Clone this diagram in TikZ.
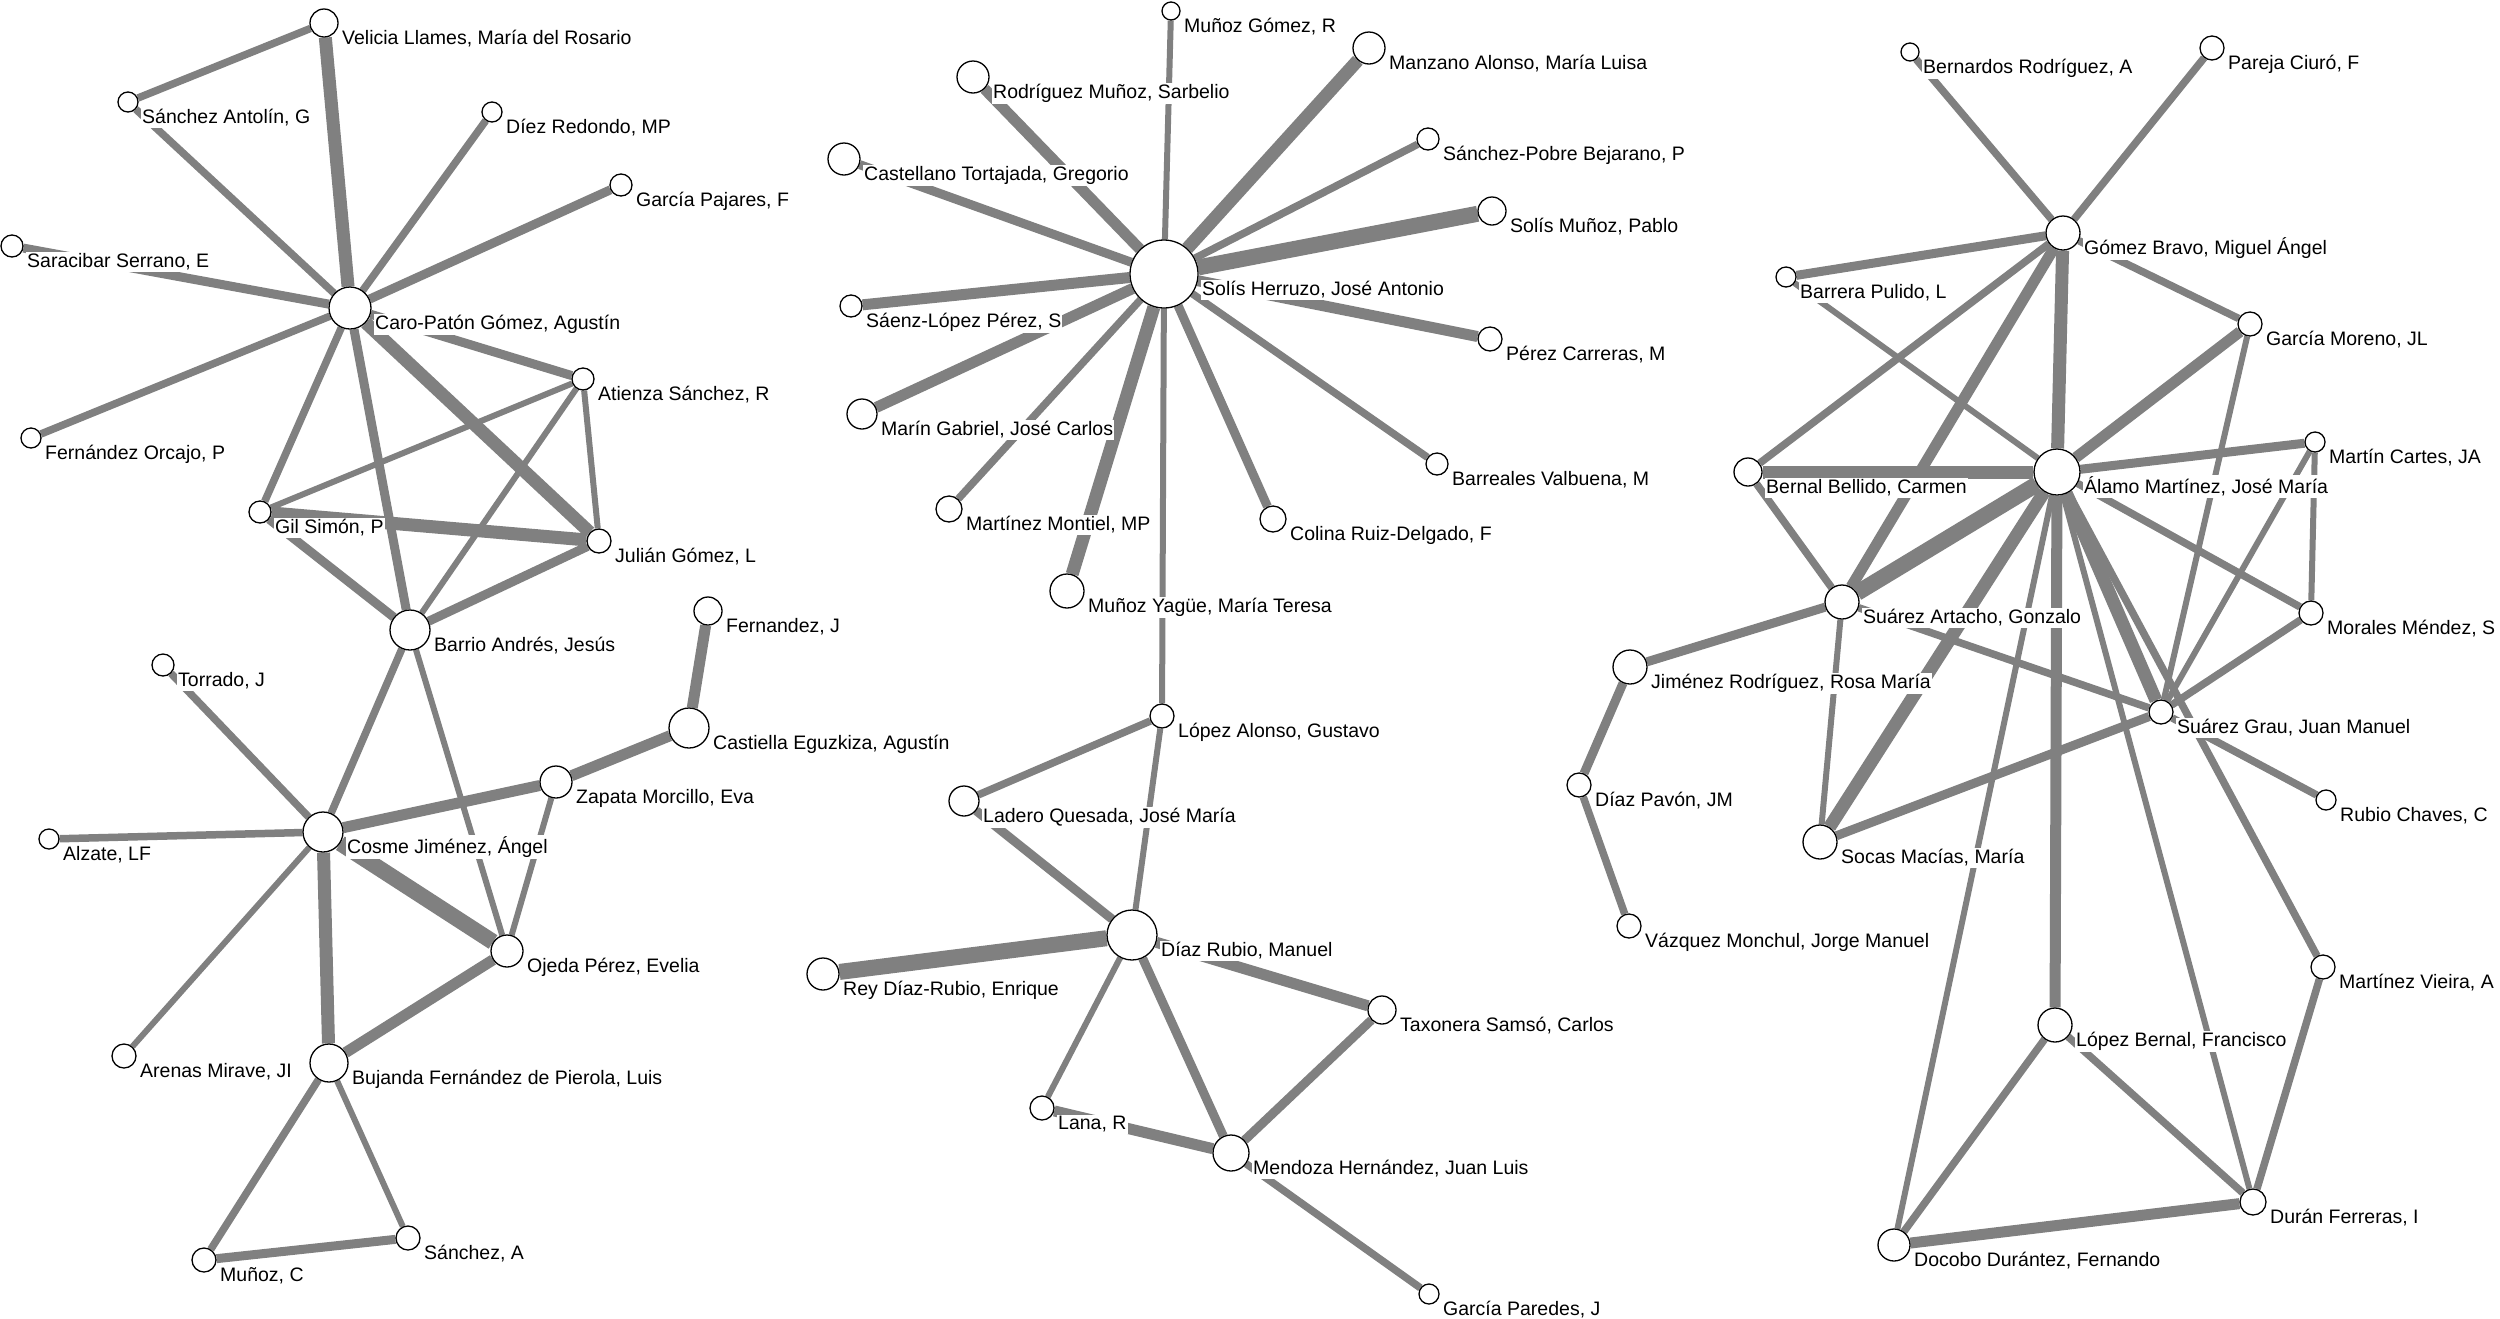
\documentclass[tikz,border=0pt]{standalone}
\usepackage{fontspec}
\setmainfont{Liberation Sans}
\definecolor{eg}{RGB}{128,128,128}
\pgfdeclarelayer{bg}
\pgfsetlayers{bg,main}
\tikzset{
  vtx/.style={circle,draw=black,fill=white,line width=1.3pt,inner sep=0pt},
  lbl/.style={anchor=base west,fill=white,inner xsep=1pt,inner ysep=1.5pt,
    font=\fontsize{19.5}{22}\selectfont,text=black},
  ed/.style={draw=eg,line cap=butt},
  e1/.style={ed,line width=6pt},
  e2/.style={ed,line width=7.5pt},
  e3/.style={ed,line width=9pt},
  e4/.style={ed,line width=11pt},
  e5/.style={ed,line width=13pt},
  e6/.style={ed,line width=16pt}
}
\newcommand\vx[5]{%
  \node[vtx,minimum size=#4*2pt] (#1) at (#2,#3) {};
  \node[lbl] (#1l) at ([xshift=#4pt+3pt,yshift=-21.5pt]#1.center) {#5};}
\begin{document}
\begin{tikzpicture}[x=1pt,y=-1pt]
\useasboundingbox (0,0) rectangle (2500,1318);
% ---------- left cluster
\vx{vel}{324}{23}{14}{Velicia Llames, María del Rosario}
\vx{san}{128}{102}{10}{Sánchez Antolín, G}
\vx{die}{492}{112}{10}{Díez Redondo, MP}
\vx{gpa}{621}{185}{11}{García Pajares, F}
\vx{sar}{12}{246}{11}{Saracibar Serrano, E}
\vx{car}{350}{308}{21}{Caro-Patón Gómez, Agustín}
\vx{ati}{583}{379}{11}{Atienza Sánchez, R}
\vx{for}{31}{438}{10}{Fernández Orcajo, P}
\vx{gil}{260}{512}{11}{Gil Simón, P}
\vx{jul}{599}{541}{12}{Julián Gómez, L}
\vx{bar}{410}{630}{20}{Barrio Andrés, Jesús}
\vx{fej}{708}{611}{14}{Fernandez, J}
\vx{tor}{163}{665}{11}{Torrado, J}
\vx{cas}{689}{728}{20}{Castiella Eguzkiza, Agustín}
\vx{zap}{556}{782}{16}{Zapata Morcillo, Eva}
\vx{cos}{323}{832}{20}{Cosme Jiménez, Ángel}
\vx{alz}{49}{839}{10}{Alzate, LF}
\vx{oje}{507}{951}{16}{Ojeda Pérez, Evelia}
\vx{are}{124}{1056}{12}{Arenas Mirave, JI}
\vx{buj}{329}{1063}{19}{Bujanda Fernández de Pierola, Luis}
\vx{sna}{408}{1238}{12}{Sánchez, A}
\vx{muc}{204}{1260}{12}{Muñoz, C}
% ---------- middle cluster
\vx{mgo}{1171}{11}{9}{Muñoz Gómez, R}
\vx{man}{1369}{48}{16}{Manzano Alonso, María Luisa}
\vx{rod}{973}{77}{16}{Rodríguez Muñoz, Sarbelio}
\vx{spb}{1428}{139}{11}{Sánchez-Pobre Bejarano, P}
\vx{ctg}{844}{159}{16}{Castellano Tortajada, Gregorio}
\vx{smu}{1492}{211}{14}{Solís Muñoz, Pablo}
\vx{she}{1164}{274}{34}{Solís Herruzo, José Antonio}
\vx{slp}{851}{306}{11}{Sáenz-López Pérez, S}
\vx{pca}{1490}{339}{12}{Pérez Carreras, M}
\vx{mar}{862}{414}{15}{Marín Gabriel, José Carlos}
\vx{bva}{1437}{464}{11}{Barreales Valbuena, M}
\vx{mmo}{949}{509}{13}{Martínez Montiel, MP}
\vx{col}{1273}{519}{13}{Colina Ruiz-Delgado, F}
\vx{myt}{1067}{591}{17}{Muñoz Yagüe, María Teresa}
\vx{lal}{1162}{716}{12}{López Alonso, Gustavo}
\vx{lad}{964}{801}{15}{Ladero Quesada, José María}
\vx{dru}{1132}{935}{25}{Díaz Rubio, Manuel}
\vx{rey}{823}{974}{16}{Rey Díaz-Rubio, Enrique}
\vx{tax}{1382}{1010}{14}{Taxonera Samsó, Carlos}
\vx{lan}{1042}{1108}{12}{Lana, R}
\vx{men}{1231}{1153}{18}{Mendoza Hernández, Juan Luis}
\vx{gpr}{1429}{1294}{10}{García Paredes, J}
% ---------- right cluster
\vx{bro}{1910}{52}{9}{Bernardos Rodríguez, A}
\vx{pci}{2212}{48}{12}{Pareja Ciuró, F}
\vx{gbr}{2063}{233}{17}{Gómez Bravo, Miguel Ángel}
\vx{bpu}{1786}{277}{10}{Barrera Pulido, L}
\vx{gmo}{2250}{324}{12}{García Moreno, JL}
\vx{mca}{2315}{442}{10}{Martín Cartes, JA}
\vx{bbe}{1748}{472}{14}{Bernal Bellido, Carmen}
\vx{ala}{2057}{472}{23}{Álamo Martínez, José María}
\vx{mme}{2311}{613}{12}{Morales Méndez, S}
\vx{sart}{1842}{602}{17}{Suárez Artacho, Gonzalo}
\vx{jim}{1630}{667}{17}{Jiménez Rodríguez, Rosa María}
\vx{sgr}{2161}{712}{12}{Suárez Grau, Juan Manuel}
\vx{dpa}{1579}{785}{12}{Díaz Pavón, JM}
\vx{rch}{2326}{800}{10}{Rubio Chaves, C}
\vx{soc}{1820}{842}{17}{Socas Macías, María}
\vx{vmo}{1629}{926}{12}{Vázquez Monchul, Jorge Manuel}
\vx{mvi}{2323}{967}{12}{Martínez Vieira, A}
\vx{lbe}{2055}{1025}{17}{López Bernal, Francisco}
\vx{dfe}{2253}{1202}{13}{Durán Ferreras, I}
\vx{doc}{1894}{1245}{16}{Docobo Durántez, Fernando}
% ---------- edges
\begin{pgfonlayer}{bg}
\fill[white] (0,0) rectangle (2500,1318);
\draw[e2] (vel)--(san); \draw[e5] (vel)--(car); \draw[e2] (san)--(car);
\draw[e2] (die)--(car); \draw[e3] (gpa)--(car); \draw[e3] (sar)--(car);
\draw[e2] (for)--(car); \draw[e3] (car)--(ati); \draw[e2] (car)--(gil);
\draw[e3] (car)--(bar); \draw[e5] (car)--(jul);
\draw[e1] (ati)--(gil); \draw[e1] (ati)--(jul); \draw[e1] (ati)--(bar);
\draw[e5] (gil)--(jul); \draw[e3] (gil)--(bar); \draw[e3] (jul)--(bar);
\draw[e2] (bar)--(cos); \draw[e1] (bar)--(oje);
\draw[e2] (tor)--(cos); \draw[e2] (alz)--(cos); \draw[e4] (cos)--(zap);
\draw[e4] (zap)--(cas); \draw[e4] (cas)--(fej); \draw[e1] (zap)--(oje);
\draw[e6] (cos)--(oje); \draw[e1] (cos)--(are); \draw[e5] (cos)--(buj);
\draw[e4] (oje)--(buj); \draw[e2] (buj)--(muc); \draw[e1] (buj)--(sna);
\draw[e3] (muc)--(sna);
%
\draw[e1] (mgo)--(she); \draw[e5] (man)--(she); \draw[e4] (rod)--(she);
\draw[e2] (spb)--(she); \draw[e3] (ctg)--(she); \draw[e6] (smu)--(she);
\draw[e4] (slp)--(she); \draw[e4] (pca)--(she); \draw[e4] (mar)--(she);
\draw[e2] (bva)--(she); \draw[e2] (mmo)--(she); \draw[e3] (col)--(she);
\draw[e5] (myt)--(she); \draw[e1] (she)--(lal);
\draw[e2] (lal)--(lad); \draw[e1] (lal)--(dru); \draw[e3] (lad)--(dru);
\draw[e6] (rey)--(dru); \draw[e4] (dru)--(tax); \draw[e1] (dru)--(lan);
\draw[e3] (dru)--(men); \draw[e4] (lan)--(men); \draw[e3] (tax)--(men);
\draw[e2] (men)--(gpr);
%
\draw[e2] (bro)--(gbr); \draw[e2] (pci)--(gbr); \draw[e3] (bpu)--(gbr);
\draw[e2] (gbr)--(gmo); \draw[e5] (gbr)--(ala); \draw[e2] (gbr)--(bbe);
\draw[e4] (gbr)--(sart); \draw[e1] (bpu)--(ala); \draw[e5] (bbe)--(ala);
\draw[e2] (bbe)--(sart); \draw[e6] (ala)--(sart); \draw[e4] (ala)--(gmo);
\draw[e3] (ala)--(mca); \draw[e2] (ala)--(mme); \draw[e5] (ala)--(sgr);
\draw[e5] (ala)--(soc); \draw[e4] (ala)--(lbe); \draw[e1] (ala)--(doc);
\draw[e1] (ala)--(dfe); \draw[e2] (ala)--(mvi); \draw[e2] (mvi)--(dfe);
\draw[e2] (lbe)--(dfe); \draw[e2] (lbe)--(doc); \draw[e4] (doc)--(dfe);
\draw[e3] (sart)--(jim); \draw[e3] (jim)--(dpa); \draw[e2] (dpa)--(vmo);
\draw[e1] (sart)--(soc); \draw[e2] (sart)--(sgr); \draw[e3] (soc)--(sgr);
\draw[e2] (sgr)--(rch); \draw[e2] (sgr)--(mme); \draw[e1] (gmo)--(sgr);
\draw[e1] (mca)--(sgr); \draw[e1] (mca)--(mme);
\end{pgfonlayer}
\end{tikzpicture}
\end{document}
